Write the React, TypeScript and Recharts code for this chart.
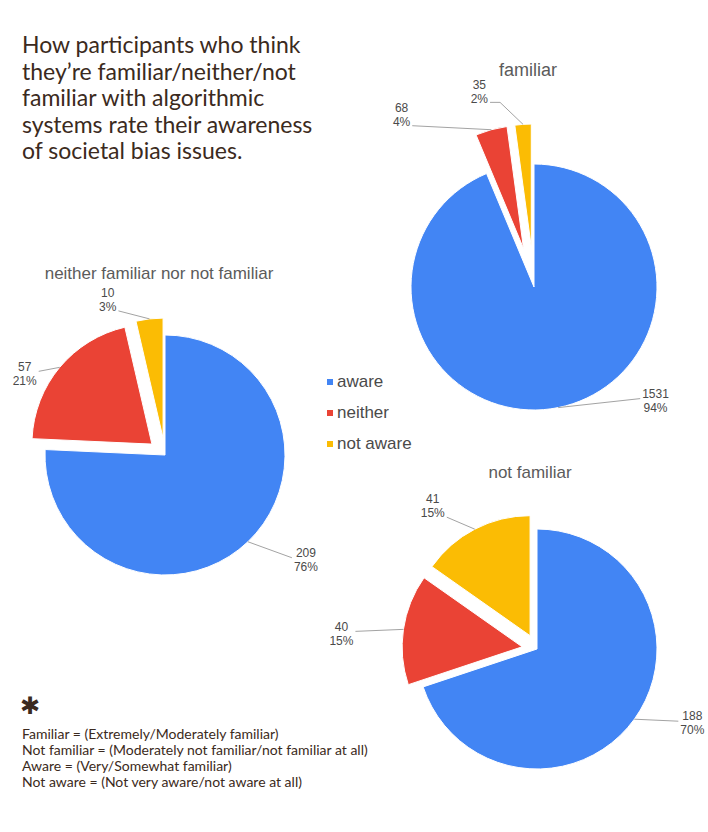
import React from 'react';
import { PieChart, Pie, Cell, Legend, Sector } from 'recharts';

// answer categories, same order in every pie
const CATEGORIES = ['aware', 'neither', 'not aware'];

// counts per familiarity group
const FAMILIAR = [1531, 68, 35];
const NEITHER = [209, 57, 10];
const NOT_FAMILIAR = [188, 40, 41];

const CHART_TITLES = ['familiar', 'neither familiar nor not familiar', 'not familiar'];

const TITLE_LINES = [
    'How participants who think',
    'they’re familiar/neither/not',
    'familiar with algorithmic',
    'systems rate their awareness',
    'of societal bias issues.',
];

const NOTES = [
    'Familiar = (Extremely/Moderately familiar)',
    'Not familiar = (Moderately not familiar/not familiar at all)',
    'Aware = (Very/Somewhat familiar)',
    'Not aware = (Not very aware/not aware at all)',
];

const COLORS = ['#4285f4', '#ea4335', '#fbbc04'];
const BROWN = '#3b2a20';
const CHART_FONT = '"Liberation Sans", Arial, sans-serif';
const NOTE_FONT = 'Lato, "Open Sans", sans-serif';

type Leader = { path: number[][]; raise: boolean };

// Google-sheets style percentages (largest remainder, sums to 100)
const roundPercents = (vals: number[]) => {
    const total = vals.reduce((a, b) => a + b, 0);
    const raw = vals.map((v) => (v * 100) / total);
    const out = raw.map((r) => Math.floor(r));
    const rest = 100 - out.reduce((a, b) => a + b, 0);
    const order = raw.map((r, i) => [r - Math.floor(r), i]).sort((a, b) => b[0] - a[0]);
    for (let k = 0; k < rest; k++) out[order[k][1]] += 1;
    return out;
};

const textWidth = (s: string) =>
    s.split('').reduce((w, ch) => w + (ch === '%' ? 10.67 : 6.67), 0);

const pies = [
    {
        key: 'familiar', values: FAMILIAR, cx: 534, cy: 287, r: 123, explode: 40,
        title: CHART_TITLES[0], titleX: 528, titleY: 70, titleSize: 18,
        leaders: [
            { path: [[82, -9]], raise: false },
            { path: [[-79, -4]], raise: true },
            { path: [[-23, -22], [-10, 0]], raise: true },
        ] as Leader[],
    },
    {
        key: 'neither', values: NEITHER, cx: 165, cy: 455, r: 120, explode: 17,
        title: CHART_TITLES[1], titleX: 159, titleY: 274, titleSize: 17,
        leaders: [
            { path: [[44, 16]], raise: false },
            { path: [[-21, 4]], raise: false },
            { path: [[-31, -8]], raise: true },
        ] as Leader[],
    },
    {
        key: 'notFamiliar', values: NOT_FAMILIAR, cx: 537, cy: 649, r: 120, explode: 15,
        title: CHART_TITLES[2], titleX: 530, titleY: 473, titleSize: 17,
        leaders: [
            { path: [[44, 2]], raise: false },
            { path: [[-48, 2]], raise: false },
            { path: [[-28, -12]], raise: true },
        ] as Leader[],
    },
];

const RAD = Math.PI / 180;

// draws the (possibly exploded) slice plus its leader line and value label
const makeSliceRenderer = (pie: typeof pies[number]) => {
    const pcts = roundPercents(pie.values);
    return (props: any) => {
        const { cx, cy, outerRadius, startAngle, endAngle, index, value } = props;
        const mid = (startAngle + endAngle) / 2;
        const ux = Math.cos(mid * RAD);
        const uy = -Math.sin(mid * RAD);
        const d = index === 0 ? 0 : pie.explode;
        const ox = cx + d * ux;
        const oy = cy + d * uy;
        const sx = ox + outerRadius * ux;
        const sy = oy + outerRadius * uy;

        const lead = pie.leaders[index];
        let px = sx;
        let py = sy;
        const pts = [`${sx},${sy}`];
        lead.path.forEach(([dx, dy]) => {
            px += dx;
            py += dy;
            pts.push(`${px},${py}`);
        });
        const side = px >= sx ? 1 : -1;
        const l1 = String(value);
        const l2 = `${pcts[index]}%`;
        const w = Math.max(textWidth(l1), textWidth(l2));
        const tx = px + side * (w / 2 + 2);
        const base = lead.raise ? py - 13.7 : py - 0.7;

        return (
            <g key={`slice-${pie.key}-${index}`}>
                <Sector
                    cx={ox}
                    cy={oy}
                    innerRadius={0}
                    outerRadius={outerRadius}
                    startAngle={startAngle}
                    endAngle={endAngle}
                    fill={COLORS[index]}
                    stroke="#ffffff"
                    strokeWidth={1}
                />
                <polyline points={pts.join(' ')} fill="none" stroke="#a3a3a3" strokeWidth={1} />
                <text x={tx} y={base} textAnchor="middle" fontSize={12} fontFamily={CHART_FONT} fill="#4a4a4a">
                    {l1}
                </text>
                <text x={tx} y={base + 14} textAnchor="middle" fontSize={12} fontFamily={CHART_FONT} fill="#4a4a4a">
                    {l2}
                </text>
            </g>
        );
    };
};

const renderLegend = (props: any) => {
    const items = (props.payload || []).filter((p: any) => p.type !== 'none');
    return (
        <div>
            {items.map((p: any) => (
                <div
                    key={p.value}
                    style={{
                        display: 'flex',
                        alignItems: 'center',
                        height: 31,
                        fontFamily: CHART_FONT,
                        fontSize: 17,
                        color: '#4a4a4a',
                        whiteSpace: 'nowrap',
                    }}
                >
                    <span style={{ display: 'inline-block', width: 6, height: 6, background: p.color, marginRight: 4 }} />
                    {p.value}
                </div>
            ))}
        </div>
    );
};

export default function App() {
    return (
        <div style={{ position: 'absolute', left: 0, top: 0, width: 708, height: 832, background: '#ffffff', overflow: 'hidden' }}>
            <div
                style={{
                    position: 'absolute',
                    left: 22,
                    top: 31,
                    fontFamily: NOTE_FONT,
                    fontSize: 23,
                    lineHeight: '26.5px',
                    color: BROWN,
                    whiteSpace: 'nowrap',
                }}
            >
                {TITLE_LINES.map((line) => (
                    <div key={line}>{line}</div>
                ))}
            </div>

            {pies.map((pie) => (
                <div
                    key={`title-${pie.key}`}
                    style={{
                        position: 'absolute',
                        left: pie.titleX - 200,
                        width: 400,
                        top: pie.titleY - 11,
                        height: 22,
                        lineHeight: '22px',
                        textAlign: 'center',
                        fontFamily: CHART_FONT,
                        fontSize: pie.titleSize,
                        color: '#5b5b5b',
                        whiteSpace: 'nowrap',
                    }}
                >
                    {pie.title}
                </div>
            ))}

            <div style={{ position: 'absolute', left: 0, top: 0 }}>
                <PieChart width={708} height={832} margin={{ top: 0, right: 0, bottom: 0, left: 0 }}>
                    {pies.map((pie, pi) => (
                        <Pie
                            key={pie.key}
                            data={CATEGORIES.map((name, i) => ({ name, value: pie.values[i] }))}
                            dataKey="value"
                            nameKey="name"
                            cx={pie.cx}
                            cy={pie.cy}
                            innerRadius={0}
                            outerRadius={pie.r}
                            startAngle={90}
                            endAngle={-270}
                            stroke="none"
                            labelLine={false}
                            label={makeSliceRenderer(pie)}
                            legendType={pi === 0 ? 'square' : 'none'}
                            isAnimationActive={false}
                        >
                            {CATEGORIES.map((name, i) => (
                                <Cell key={name} fill={COLORS[i]} fillOpacity={0} />
                            ))}
                        </Pie>
                    ))}
                    <Legend
                        layout="vertical"
                        align="center"
                        verticalAlign="middle"
                        wrapperStyle={{ left: 327, top: 366, width: 120 }}
                        content={renderLegend}
                    />
                </PieChart>
            </div>

            <div
                style={{
                    position: 'absolute',
                    left: 20,
                    top: 692,
                    height: 28,
                    fontFamily: '"DejaVu Sans", sans-serif',
                    fontWeight: 700,
                    fontSize: 24,
                    lineHeight: '28px',
                    color: BROWN,
                }}
            >
                ✱
            </div>
            <div
                style={{
                    position: 'absolute',
                    left: 22,
                    top: 726,
                    fontFamily: NOTE_FONT,
                    fontSize: 14,
                    lineHeight: '16px',
                    color: BROWN,
                    whiteSpace: 'nowrap',
                }}
            >
                {NOTES.map((line) => (
                    <div key={line}>{line}</div>
                ))}
            </div>
        </div>
    );
}
